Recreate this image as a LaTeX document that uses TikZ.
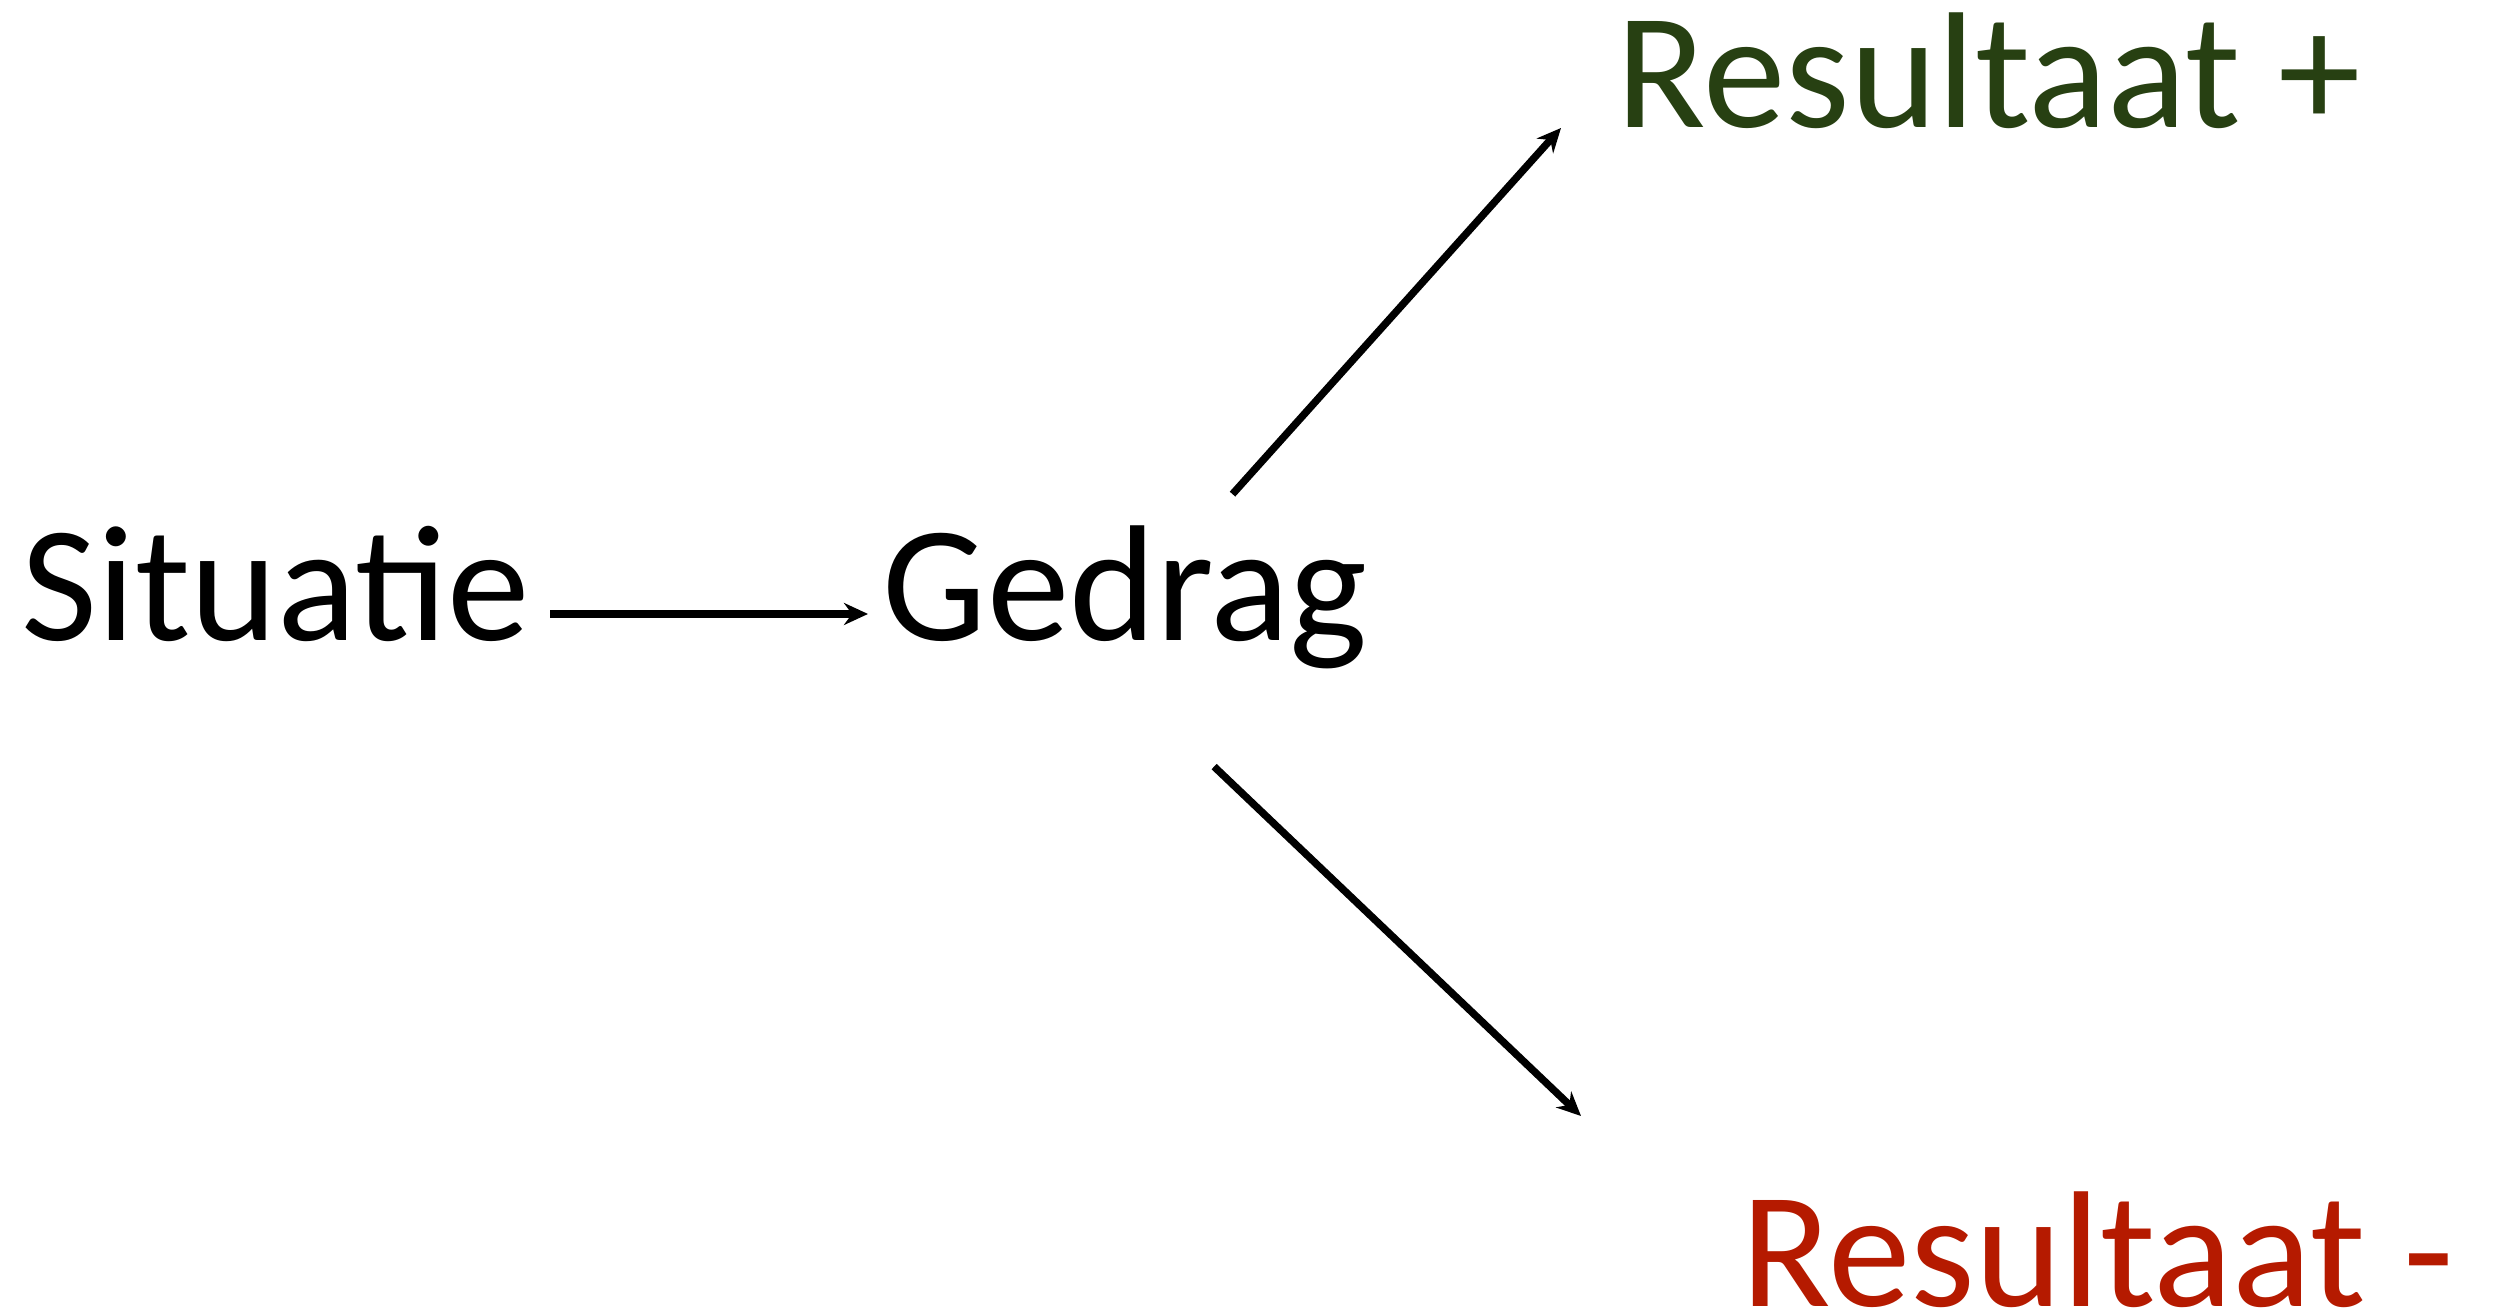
\documentclass[tikz,border=0pt]{standalone}
\usepackage{fontspec}
\setmainfont{Carlito}
\usepackage{tikz}
\usetikzlibrary{arrows.meta}
\definecolor{resgreen}{RGB}{39,64,18}
\definecolor{resred}{RGB}{181,26,0}

\begin{document}
\begin{tikzpicture}[
  x=0.01cm,y=-0.01cm,
  word/.style={inner sep=0pt,anchor=base west,font=\fontsize{47}{56}\selectfont},
  step word/.style={word,text height=0.94cm,text depth=0.4cm},
  arrow/.style={-{Stealth[length=2.4mm,width=2.2mm,inset=0.8mm]},line width=2.1pt},
]
  \useasboundingbox (0,0) rectangle (2514,1316);
  \node[step word] (sit) at (21,641) {Situatie};
  \node[step word] (ged) at (882,641) {Gedrag};
  \node[word,text=resgreen] (plus) at (1616,128) {Resultaat +};
  \node[word,text=resred] (minus) at (1741,1306) {Resultaat -};
  \coordinate (tipplus) at (1561,128);
  \coordinate (tipminus) at (1581,1116);
  \draw[arrow,shorten <=0.2cm,shorten >=0.14cm] (sit) -- (ged);
  \draw[arrow,shorten <=0.7cm] (ged) -- (tipplus);
  \draw[arrow,shorten <=1.23cm] (ged.south) -- (tipminus);
\end{tikzpicture}
\end{document}
